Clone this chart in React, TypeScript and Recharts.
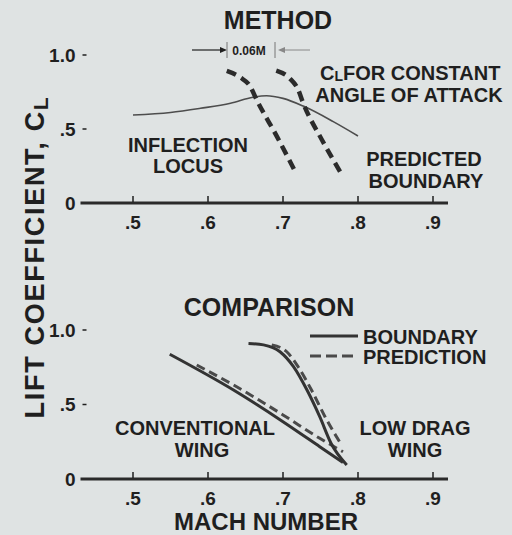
import React from "react"
import { LineChart, Line, XAxis, YAxis } from "recharts"

// Mach number / lift coefficient readings
const machTicks = [0.5, 0.6, 0.7, 0.8, 0.9]
const clTicks = [0, 0.5, 1.0]

// top panel: method
const locusMach = [0.5, 0.55, 0.59, 0.63, 0.66, 0.678, 0.7, 0.727, 0.767, 0.8]
const locusCl = [0.595, 0.612, 0.64, 0.674, 0.714, 0.725, 0.707, 0.655, 0.55, 0.453]

const alphaAMach = [0.625, 0.643, 0.656, 0.665, 0.692, 0.718]
const alphaACl = [0.892, 0.849, 0.79, 0.696, 0.448, 0.196]

const alphaBMach = [0.691, 0.709, 0.72, 0.727, 0.752, 0.778]
const alphaBCl = [0.894, 0.842, 0.768, 0.674, 0.426, 0.196]

// bottom panel: comparison
const convBoundaryMach = [0.549, 0.634, 0.7, 0.749, 0.78]
const convBoundaryCl = [0.837, 0.597, 0.385, 0.217, 0.11]

const convPredMach = [0.585, 0.634, 0.7, 0.749, 0.78]
const convPredCl = [0.765, 0.631, 0.43, 0.273, 0.183]

const lowBoundaryMach = [0.654, 0.674, 0.696, 0.714, 0.732, 0.749, 0.764, 0.785]
const lowBoundaryCl = [0.91, 0.9, 0.854, 0.754, 0.597, 0.418, 0.24, 0.094]

const lowPredMach = [0.685, 0.705, 0.72, 0.738, 0.756, 0.778]
const lowPredCl = [0.9, 0.854, 0.754, 0.597, 0.418, 0.228]

const pts = (m: number[], c: number[]) => m.map((x, i) => ({ m: x, cl: c[i] }))

const FONT = '"Liberation Sans", Arial, sans-serif'
const INK = "#1f1f1f"
const BG = "#dfe3e3"

const fmtMach = (v: number) => String(v).replace(/^0/, "")
const fmtCl = (v: number) => (v === 0 ? "0" : v === 1 ? "1.0" : String(v).replace(/^0/, ""))

function MachTick(props: any) {
  const { x, y, payload } = props
  return (
    <g>
      <line x1={x} y1={y - 1} x2={x} y2={y - 7} stroke={INK} strokeWidth={1.5} />
      <text x={x} y={y + 19} textAnchor="middle" dominantBaseline="central" fontFamily={FONT} fontSize={19} fontWeight="bold" fill={INK}>
        {fmtMach(payload.value)}
      </text>
    </g>
  )
}

function ClTick(props: any) {
  const { x, y, payload } = props
  return (
    <g>
      {payload.value > 0 && <line x1={x + 2} y1={y} x2={x + 6} y2={y} stroke={INK} strokeWidth={1.5} />}
      <text x={x - 5} y={y} textAnchor="end" dominantBaseline="central" fontFamily={FONT} fontSize={19} fontWeight="bold" fill={INK}>
        {fmtCl(payload.value)}
      </text>
    </g>
  )
}

// axes take 1px (a zero-size axis is not drawn), so margins give that back
const margin = (top: number, bottom: number) => ({ top, bottom: bottom - 1, left: 79.5, right: 64 })

function Axes() {
  return [
    <XAxis
      key="x"
      type="number"
      dataKey="m"
      domain={[0.43, 0.92]}
      ticks={machTicks}
      height={1}
      tickSize={0}
      tickMargin={0}
      tickLine={false}
      axisLine={{ stroke: "#2a2a2a", strokeWidth: 3 }}
      tick={<MachTick />}
      allowDuplicatedCategory={false}
    />,
    <YAxis key="y" type="number" dataKey="cl" domain={[0, 1]} ticks={clTicks} width={1} tickSize={0} tickMargin={0} tickLine={false} axisLine={false} tick={<ClTick />} />,
  ]
}

function Lbl({ x, y, size = 20, children, anchor = "middle" }: any) {
  return (
    <text x={x} y={y} textAnchor={anchor} dominantBaseline="central" fontFamily={FONT} fontSize={size} fontWeight="bold" fill={INK}>
      {children}
    </text>
  )
}

export default function App() {
  return (
    <div style={{ position: "relative", width: 512, height: 535, background: BG, overflow: "hidden" }}>
      <style>{`body{margin:0}`}</style>
      <div style={{ position: "absolute", left: 0, top: 0 }}>
        <LineChart width={512} height={245} margin={margin(55, 42)}>
          {Axes()}
          <Line data={pts(locusMach, locusCl)} dataKey="cl" type="monotone" stroke="#4d4d4d" strokeWidth={1.6} dot={false} isAnimationActive={false} />
          <Line data={pts(alphaAMach, alphaACl)} dataKey="cl" type="monotone" stroke="#2b2b2b" strokeWidth={4.5} strokeDasharray="10 6" dot={false} isAnimationActive={false} />
          <Line data={pts(alphaBMach, alphaBCl)} dataKey="cl" type="monotone" stroke="#2b2b2b" strokeWidth={4.5} strokeDasharray="10 6" dot={false} isAnimationActive={false} />
        </LineChart>
      </div>
      <div style={{ position: "absolute", left: 0, top: 270 }}>
        <LineChart width={512} height={265} margin={margin(60, 56)}>
          {Axes()}
          <Line data={pts(convPredMach, convPredCl)} dataKey="cl" type="monotone" stroke="#4a4a4a" strokeWidth={3} strokeDasharray="9 5" dot={false} isAnimationActive={false} />
          <Line data={pts(lowPredMach, lowPredCl)} dataKey="cl" type="monotone" stroke="#4a4a4a" strokeWidth={3} strokeDasharray="9 5" dot={false} isAnimationActive={false} />
          <Line data={pts(convBoundaryMach, convBoundaryCl)} dataKey="cl" type="monotone" stroke="#333" strokeWidth={3} dot={false} isAnimationActive={false} />
          <Line data={pts(lowBoundaryMach, lowBoundaryCl)} dataKey="cl" type="monotone" stroke="#333" strokeWidth={3} dot={false} isAnimationActive={false} />
        </LineChart>
      </div>
      <svg width={512} height={535} style={{ position: "absolute", left: 0, top: 0, pointerEvents: "none" }}>
        <Lbl x={278} y={20} size={25}>METHOD</Lbl>
        {/* 0.06M spacing marker */}
        <line x1={192} y1={50} x2={221} y2={50} stroke={INK} strokeWidth={1.2} />
        <polygon points="227,50 220,47 220,53" fill={INK} />
        <line x1={227} y1={42} x2={227} y2={58} stroke="#777" strokeWidth={1} />
        <Lbl x={249} y={51} size={12}>0.06M</Lbl>
        <line x1={275} y1={42} x2={275} y2={58} stroke="#777" strokeWidth={1} />
        <polygon points="278,50 285,47 285,53" fill="#888" />
        <line x1={284} y1={50} x2={310} y2={50} stroke="#888" strokeWidth={1} />
        <text x={320} y={73} dominantBaseline="central" fontFamily={FONT} fontSize={20} fontWeight="bold" fill={INK}>
          C<tspan dy={3} fontSize={14}>L</tspan>
          <tspan dy={-3}>FOR  CONSTANT</tspan>
        </text>
        <Lbl x={409} y={95} size={20}>ANGLE OF ATTACK</Lbl>
        <Lbl x={188} y={145}>INFLECTION</Lbl>
        <Lbl x={188} y={166}>LOCUS</Lbl>
        <Lbl x={424} y={159}>PREDICTED</Lbl>
        <Lbl x={426} y={181}>BOUNDARY</Lbl>

        <Lbl x={269} y={307} size={25}>COMPARISON</Lbl>
        <line x1={310} y1={336} x2={358} y2={336} stroke="#333" strokeWidth={3} />
        <line x1={310} y1={356} x2={358} y2={356} stroke="#4a4a4a" strokeWidth={3} strokeDasharray="11 5" />
        <Lbl x={363} y={337} anchor="start">BOUNDARY</Lbl>
        <Lbl x={363} y={357} anchor="start">PREDICTION</Lbl>
        <Lbl x={195} y={428}>CONVENTIONAL</Lbl>
        <Lbl x={202} y={450}>WING</Lbl>
        <Lbl x={415} y={428}>LOW DRAG</Lbl>
        <Lbl x={415} y={450}>WING</Lbl>
        <Lbl x={266} y={521} size={24}>MACH NUMBER</Lbl>

        <text
          transform="translate(35 257) rotate(-90)"
          textAnchor="middle"
          dominantBaseline="central"
          fontFamily={FONT}
          fontSize={27}
          fontWeight="bold"
          letterSpacing={1.7}
          fill={INK}
        >
          LIFT  COEFFICIENT, C<tspan dy={5} fontSize={21}>L</tspan>
        </text>
      </svg>
    </div>
  )
}
